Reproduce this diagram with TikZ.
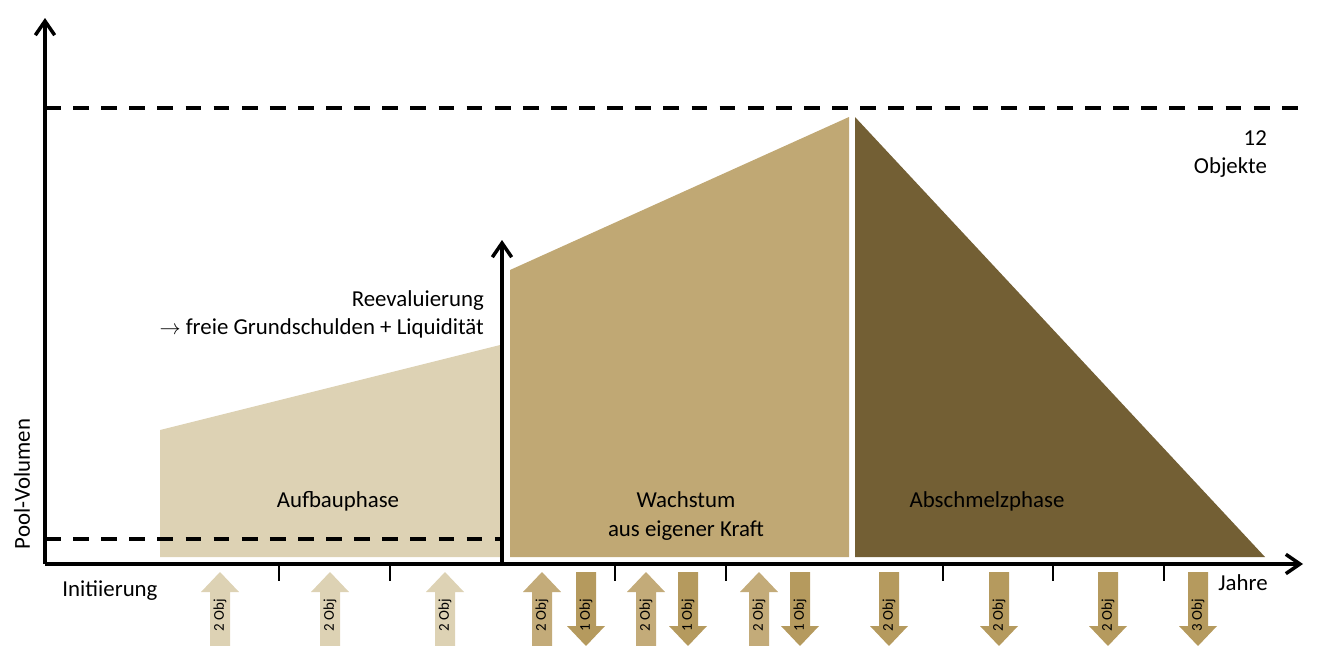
\documentclass[tikz,border=0pt]{standalone}
\usepackage{fontspec}
\setmainfont{Carlito}
\usetikzlibrary{arrows.meta}

\definecolor{aufbau}{HTML}{DDD2B4}
\definecolor{wachstum}{HTML}{C0A874}
\definecolor{abschmelz}{HTML}{735F34}
\definecolor{objzu}{HTML}{C3AB79}
\definecolor{objab}{HTML}{B59A5E}

% block arrow into the pool: x, colour, text, name
\newcommand{\objin}[4]{%
  \fill[#2] (#1-10,646) -- (#1-10,592) -- (#1-19,592) -- (#1,572) -- (#1+19,592) -- (#1+10,592) -- (#1+10,646) -- cycle;
  \node[objlabel] (#4) at (#1,615) {#3};}
% block arrow out of the pool
\newcommand{\objout}[4]{%
  \fill[#2] (#1-10,572) -- (#1-10,626) -- (#1-19,626) -- (#1,646) -- (#1+19,626) -- (#1+10,626) -- (#1+10,572) -- cycle;
  \node[objlabel] (#4) at (#1,615) {#3};}

\begin{document}
\begin{tikzpicture}[x=0.02cm,y=-0.02cm,
    axis/.style={line width=2pt,-{Straight Barb[length=8pt,width=11pt]}},
    level/.style={line width=2.2pt,dash pattern=on 9pt off 7pt},
    tickmark/.style={line width=0.8pt},
    phase/.style={font=\fontsize{13}{16}\selectfont,inner sep=1pt},
    objlabel/.style={font=\fontsize{8.5}{10}\selectfont,rotate=90,inner sep=0pt}]
  \useasboundingbox (0,0) rectangle (1320,646);

  % phases
  \fill[aufbau] (160,430) -- (500,345) -- (500,557) -- (160,557) -- cycle;
  \fill[wachstum] (510,270) -- (849,117) -- (849,557) -- (510,557) -- cycle;
  \fill[abschmelz] (855,117) -- (1265,557) -- (855,557) -- cycle;

  % levels
  \draw[level] (45,108) -- (1300,108);
  \draw[level] (45,539) -- (500,539);

  % axes
  \coordinate (O) at (45,564);
  \coordinate (ytop) at (45,18);
  \coordinate (xtop) at (1303,564);
  \coordinate (R) at (502,564);
  \coordinate (rtop) at (502,240);
  \draw[axis] (O) -- (ytop);
  \draw[axis] (O) -- (xtop);
  \draw[axis] (R) -- (rtop);
  \foreach \x in {279,390,615,726,943,1053,1164}
    \draw[tickmark] (\x,564) -- (\x,581);

  \node[phase] (aufbaulabel) at (338,501) {Aufbauphase};
  \node[phase,align=center] (wachstumlabel) at (686,516) {Wachstum\\aus eigener Kraft};
  \node[phase] (abschmelzlabel) at (987,501) {Abschmelzphase};
  \node[phase,align=right,anchor=east] (reeval) at (486,314) {Reevaluierung\\$\rightarrow$ freie Grundschulden + Liquidität};
  \node[phase,align=right,anchor=east] (ziel) at (1269,154) {12\\Objekte};
  \node[phase,rotate=90] (yname) at (22,484) {Pool-Volumen};
  \node[phase] (start) at (110,591) {Initiierung};
  \node[phase] (xname) at (1243,583) {Jahre};

  % objects in and out
  \foreach \x/\n in {220/a1,330/a2,445/a3}
    \objin{\x}{aufbau}{2 Obj}{\n};
  \foreach \x/\n in {542/w1,646/w2,759/w3}
    \objin{\x}{objzu}{2 Obj}{\n};
  \foreach \x/\n in {586/v1,688/v2,800/v3}
    \objout{\x}{objab}{1 Obj}{\n};
  \foreach \x/\t/\n in {889/2/s1,999/2/s2,1108/2/s3,1198/3/s4}
    \objout{\x}{objab}{\t\ Obj}{\n};
\end{tikzpicture}
\end{document}
